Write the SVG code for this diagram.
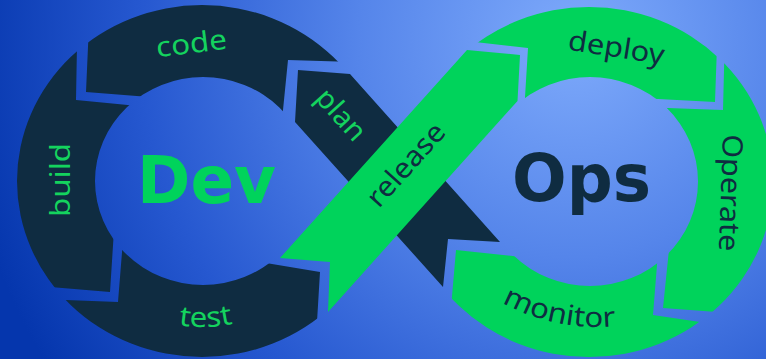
<svg xmlns="http://www.w3.org/2000/svg" width="766" height="359" viewBox="0 0 766 359">
<style>
.dark{fill:#0f2c41}
.green{fill:#00d35b}
.lbl{font-family:"Noto Sans","Liberation Sans",sans-serif;font-size:28px}
.lg{fill:#14d35e}
.ld{fill:#0f2c41}
.big{font-family:"DejaVu Sans","Liberation Sans",sans-serif;font-weight:bold;font-size:66px}
</style>
<defs>
<radialGradient id="bg" gradientUnits="userSpaceOnUse" cx="575" cy="40" r="620">
<stop offset="0" stop-color="#7eaafb"/>
<stop offset="0.35" stop-color="#5585ea"/>
<stop offset="0.7" stop-color="#2658d0"/>
<stop offset="1" stop-color="#0536ad"/>
</radialGradient>
<path id="ringL" fill-rule="evenodd" d="M17,181 A185,176 0 1,0 387,181 A185,176 0 1,0 17,181 Z M95,181 A108,104 0 1,0 311,181 A108,104 0 1,0 95,181 Z"/>
<path id="ringR" fill-rule="evenodd" d="M405,182 A184,175 0 1,0 773,182 A184,175 0 1,0 405,182 Z M482,181.5 A108,104.5 0 1,0 698,181.5 A108,104.5 0 1,0 482,181.5 Z"/>
<clipPath id="cCode"><polygon points="90.5,-10 86,92 200,101 280,140 288,60 420,64 420,-10"/></clipPath>
<clipPath id="cBuild"><polygon points="78,-10 76,100 200,112 114,230 110,292 -10,282 -10,-10"/></clipPath>
<clipPath id="cTest"><polygon points="-10,297 118,302 123,240 230,257 320,272 313.5,380 -10,380"/></clipPath>
<clipPath id="cDeploy"><polygon points="440,38 528,48 523,130 620,97 715,102 719,-10 440,-10"/></clipPath>
<clipPath id="cOperate"><polygon points="726,-10 723,110 640,107 671,230 663,308 780,316.7 780,-10"/></clipPath>
<clipPath id="cMonitor"><polygon points="456,250 560,261 620,230 659,240 653,315 780,334 780,400 443,400"/></clipPath>
<path id="arcTest" d="M77.5,257.3 A146,146 0 0,0 330.3,250.7"/>
<path id="arcMonitor" d="M421.7,221.5 A200,200 0 0,0 721.7,284.2"/>
</defs>
<rect width="766" height="359" fill="url(#bg)"/>
<g id="node-code">
<use href="#ringL" class="dark" clip-path="url(#cCode)"/>
<text class="lbl lg" x="192.5" y="53" text-anchor="middle" transform="rotate(-7 192.5 53)" textLength="71" lengthAdjust="spacingAndGlyphs">code</text>
</g>
<g id="node-build">
<use href="#ringL" class="dark" clip-path="url(#cBuild)"/>
<text class="lbl lg" x="70" y="180" text-anchor="middle" transform="rotate(-90 70 180)" textLength="74" lengthAdjust="spacingAndGlyphs">build</text>
</g>
<g id="node-test">
<use href="#ringL" class="dark" clip-path="url(#cTest)"/>
<text class="lbl lg" textLength="55" lengthAdjust="spacingAndGlyphs"><textPath href="#arcTest" startOffset="50%" text-anchor="middle">test</textPath></text>
</g>
<g id="node-plan">
<polygon class="dark" points="298,70 350,74 500,242 448,239 443,287 295,122"/>
<text class="lbl lg" x="334" y="121" text-anchor="middle" transform="rotate(48 334 121)" textLength="60" lengthAdjust="spacingAndGlyphs">plan</text>
</g>
<g id="node-deploy">
<use href="#ringR" class="green" clip-path="url(#cDeploy)"/>
<text class="lbl ld" x="615" y="57" text-anchor="middle" transform="rotate(9 615 57)" textLength="97" lengthAdjust="spacingAndGlyphs">deploy</text>
</g>
<g id="node-operate">
<use href="#ringR" class="green" clip-path="url(#cOperate)"/>
<text class="lbl ld" x="721" y="192.5" text-anchor="middle" transform="rotate(92 721 192.5)" textLength="117" lengthAdjust="spacingAndGlyphs">Operate</text>
</g>
<g id="node-monitor">
<use href="#ringR" class="green" clip-path="url(#cMonitor)"/>
<text class="lbl ld" textLength="118" lengthAdjust="spacingAndGlyphs"><textPath href="#arcMonitor" startOffset="50%" text-anchor="middle">monitor</textPath></text>
</g>
<g id="node-release">
<polygon class="green" points="467,50 520,55 517.5,101 328,312 330,262 280,258"/>
<text class="lbl ld" x="413" y="171" text-anchor="middle" transform="rotate(-48 413 171)" textLength="102" lengthAdjust="spacingAndGlyphs">release</text>
</g>
<g id="node-dev">
<text class="big" x="137" y="203" textLength="139" lengthAdjust="spacingAndGlyphs" fill="#00d35b">Dev</text>
</g>
<g id="node-ops">
<text class="big" x="512" y="201" textLength="139" lengthAdjust="spacingAndGlyphs" fill="#0f2c41">Ops</text>
</g>
</svg>
